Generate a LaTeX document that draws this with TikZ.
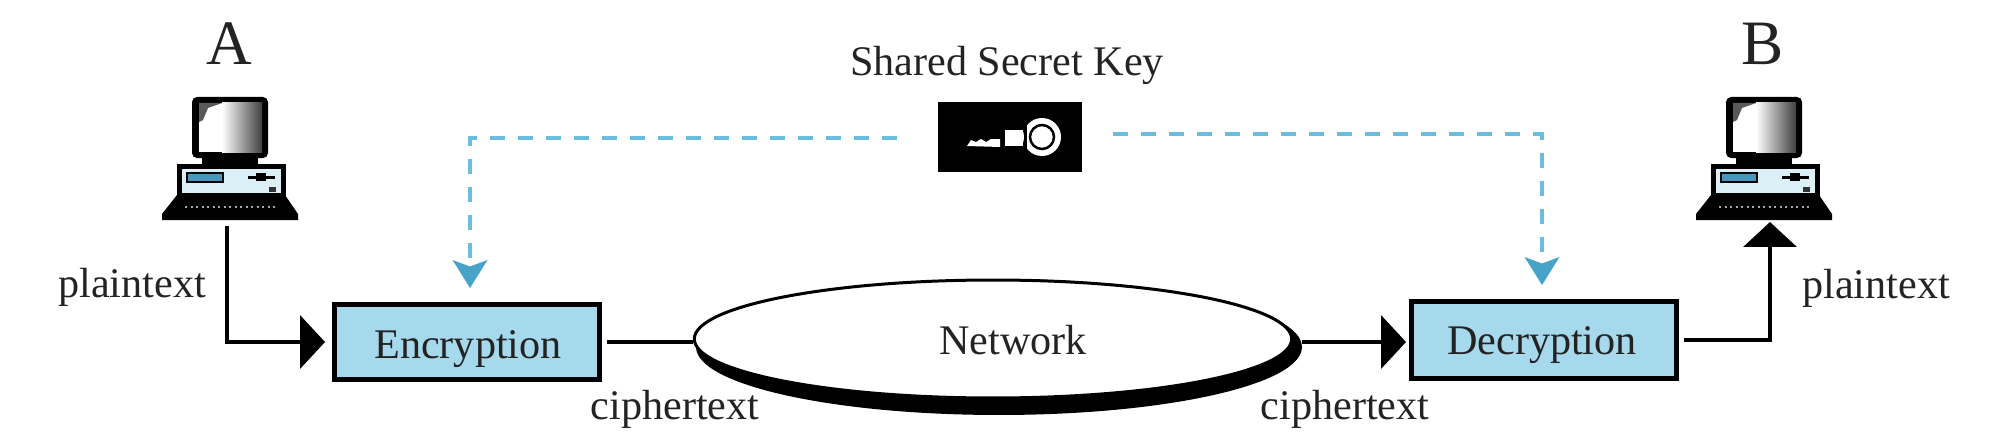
\documentclass[tikz,border=0pt]{standalone}
\usepackage{fontspec}
\setmainfont{Liberation Serif}
\usetikzlibrary{arrows.meta, shapes.geometric, positioning}
\definecolor{boxblue}{RGB}{166, 217, 236}
\definecolor{keyblue}{RGB}{104, 190, 220}
\definecolor{tipblue}{RGB}{72, 163, 200}
\definecolor{panelblue}{RGB}{218, 240, 246}
\definecolor{slotblue}{RGB}{70, 150, 190}
\definecolor{inkgray}{RGB}{35, 35, 35}
\tikzset{
	label/.style={font=\fontsize{24}{28}\selectfont, text=inkgray, inner sep=0pt},
	party/.style={font=\fontsize{36}{40}\selectfont, text=inkgray, inner sep=0pt},
	cipher/.style={label, draw=black, fill=boxblue, line width=0.1cm, minimum width=5.3cm, minimum height=1.5cm},
	line/.style={draw, black, line width=0.08cm},
	solidarrow/.style={line, -{Triangle[length=0.5cm, width=1.06cm]}},
	keyarrow/.style={draw=keyblue, line width=0.09cm, dash pattern=on 0.3cm off 0.26cm, -{Stealth[length=0.56cm, width=0.7cm, inset=0.13cm, fill=tipblue, color=tipblue, line width=0pt]}},
	computer/.pic={
		\fill[black] (-53,-25) -- (55,-25) -- (68,-6) -- (68,0) -- (-68,0) -- (-68,-6) -- cycle;
		\draw[gray!70, dotted, line width=0.04cm] (-45,-13) -- (45,-13);
		\fill[black] (-28,-66) rectangle (28,-55);
		\draw[fill=panelblue, line width=0.1cm] (-51,-25) rectangle (53,-54);
		\fill[slotblue, draw=black, line width=0.03cm] (-43,-47) rectangle (-7,-38);
		\fill[black] (18,-41.5) rectangle (45,-44.5);
		\fill[black] (26,-39) rectangle (36,-47);
		\fill[black!80] (39,-28) rectangle (46,-33);
		\fill[black, rounded corners=0.1cm] (-38,-123) rectangle (38,-62);
		\fill[white] (-31,-117) rectangle (32,-68);
		\shade[left color=white, right color=black!75] (-8,-117) rectangle (32,-68);
		\fill[black!65] (-31,-117) -- (-8,-117) -- (-22,-112) -- (-27,-100) -- (-31,-98) -- cycle;
		\coordinate (-base) at (-3,6);
		\coordinate (-top) at (6,2);
	}
}
\begin{document}
\begin{tikzpicture}[x=0.02cm, y=-0.02cm]
	\useasboundingbox (0,0) rectangle (1994,446);
	\pic (pcA) at (230,220) {computer};
	\pic (pcB) at (1764,220) {computer};
	\node[party] (nameA) at (229,44) {A};
	\node[party] (nameB) at (1763,44) {B};
	\node[label] (sharedkey) at (1007,65) {Shared Secret Key};
	\node[fill=black, minimum width=2.88cm, minimum height=1.42cm] (key) at (1010,137) {};
	\fill[white] (967,146) -- (971,140) -- (976,142) -- (981,139) -- (986,142) -- (991,139) -- (1000,139) -- (1000,147) -- cycle;
	\fill[white] (1005,130) rectangle (1023,146);
	\fill[white] (1042,137) circle (0.38cm);
	\fill[black] (1024,118) rectangle (1027,156);
	\draw[black, line width=0.05cm] (1042,137) circle (0.24cm);
	\coordinate (keyL) at (897,138);
	\coordinate (keyR) at (1113,134);
	\coordinate (encin) at (470,288);
	\coordinate (decin) at (1542,285);
	\node[cipher] (enc) at (467,342) {};
	\node[label] (enctext) at (468,349) {Encryption};
	\node[cipher, minimum height=1.54cm] (dec) at (1544,340) {};
	\node[label] (dectext) at (1542,345) {Decryption};
	\node[ellipse, fill=black, minimum width=12.12cm, minimum height=2.72cm, inner sep=0pt] (netshadow) at (999,347) {};
	\node[ellipse, draw=black, fill=white, line width=0.06cm, minimum width=11.95cm, minimum height=2.36cm, inner sep=0pt, label] (net) at (993,339) {};
	\node[label] (nettext) at (1013,340) {Network};
	\node[label] (plainA) at (132,287) {plaintext};
	\node[label] (plainB) at (1876,288) {plaintext};
	\node[label] (cipherA) at (675,409) {ciphertext};
	\node[label] (cipherB) at (1345,409) {ciphertext};
	\draw[solidarrow, shorten >=0.14cm] (pcA-base) |- (enc.west);
	\draw[line, shorten <=0.1cm] (enc.east) -- (enc.east -| net.west);
	\draw[solidarrow, shorten >=0.06cm] (enc.east -| netshadow.east) -- (enc.east -| dec.west);
	\draw[solidarrow, shorten <=0.1cm] (dec.east) -| (pcB-top);
	\draw[keyarrow] (keyL) -| (encin);
	\draw[keyarrow] (keyR) -| (decin);
\end{tikzpicture}
\end{document}
